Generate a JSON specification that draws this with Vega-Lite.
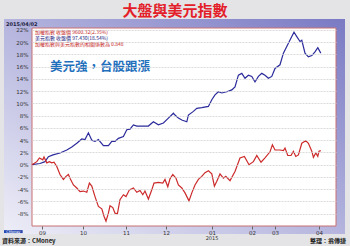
{
"$schema": "https://vega.github.io/schema/vega-lite/v6.json",
"width": 304, "height": 198,
"autosize": {"type": "none"},
"padding": {"left": 32, "top": 28, "right": 14, "bottom": 20},
"background": "#e4e4e6",
"config": {"view": {"stroke": null}, "font": "Noto Sans CJK TC"},
"encoding": {
  "x": {"field": "t", "type": "quantitative",
        "scale": {"domain": [0, 152], "nice": false, "zero": false},
        "axis": {"title": null, "values": [5, 25.5, 47, 67, 90, 110, 121.5, 143.5],
                 "labelExpr": "datum.value==5?'09':datum.value==25.5?'10':datum.value==47?'11':datum.value==67?'12':datum.value==90?'01':datum.value==110?'02':datum.value==121.5?'03':'04'",
                 "grid": false, "domain": false, "ticks": true, "tickSize": 3, "tickColor": "#666666",
                 "labelFontSize": 5.5, "labelColor": "#333333", "labelPadding": 1, "labelFont": "DejaVu Sans", "zindex": 1}},
  "y": {"field": "v", "type": "quantitative",
        "scale": {"domain": [-10, 22.3], "nice": false, "zero": false},
        "axis": {"title": null, "values": [-8, -6, -4, -2, 0, 2, 4, 6, 8, 10, 12, 14, 16, 18, 20, 22],
                 "labelExpr": "datum.value + '%'", "grid": true, "gridColor": "#d2d2d2", "gridDash": [2, 1], "gridWidth": 0.8,
                 "ticks": false, "domain": false, "labelFontSize": 5.5, "labelColor": "#333333", "labelPadding": 4,
                 "labelFont": "DejaVu Sans", "zindex": 1}}
},
"layer": [
  {"data": {"values": [{"t": -14, "t2": 156.5, "v": -11.3, "v2": 23.76}]},
   "mark": {"type": "rect", "clip": false,
            "fill": {"gradient": "linear", "x1": 0, "y1": 1, "x2": 1, "y2": 0,
                     "stops": [{"offset": 0, "color": "#eeeef8"}, {"offset": 1, "color": "#7a7ac4"}]}},
   "encoding": {"x2": {"field": "t2"}, "y2": {"field": "v2"}}},
  {"data": {"values": [{"t": 0, "t2": 152, "v": -10, "v2": 22.3}]},
   "mark": {"type": "rect", "fill": "#ffffff", "stroke": "#c87070", "strokeWidth": 1},
   "encoding": {"x2": {"field": "t2"}, "y2": {"field": "v2"}}},
  {"data": {"values": [{"t": -14, "t2": -4.65, "v": -10.67, "v2": -11.16}]},
   "mark": {"type": "rect", "clip": false, "fill": "#2848b0"},
   "encoding": {"x2": {"field": "t2"}, "y2": {"field": "v2"}}},
  {"data": {"values": [
    {"s": "美元指數", "t": 0, "v": 0}, {"s": "美元指數", "t": 4, "v": 0.2}, {"s": "美元指數", "t": 6.5, "v": 0.5},
    {"s": "美元指數", "t": 8.2, "v": 1.3}, {"s": "美元指數", "t": 10.5, "v": 1.6}, {"s": "美元指數", "t": 14, "v": 1.9},
    {"s": "美元指數", "t": 17.4, "v": 2.4}, {"s": "美元指數", "t": 19.9, "v": 2.9}, {"s": "美元指數", "t": 22.4, "v": 3.5},
    {"s": "美元指數", "t": 24.9, "v": 4.2}, {"s": "美元指數", "t": 26.5, "v": 4.1}, {"s": "美元指數", "t": 28.2, "v": 5.2},
    {"s": "美元指數", "t": 29.9, "v": 4.0}, {"s": "美元指數", "t": 31.5, "v": 3.8}, {"s": "美元指數", "t": 33.2, "v": 4.1},
    {"s": "美元指數", "t": 35.7, "v": 3.1}, {"s": "美元指數", "t": 38.2, "v": 3.1}, {"s": "美元指數", "t": 39.9, "v": 3.8},
    {"s": "美元指數", "t": 41.5, "v": 3.8}, {"s": "美元指數", "t": 43.2, "v": 4.3}, {"s": "美元指數", "t": 45.7, "v": 4.6},
    {"s": "美元指數", "t": 47.4, "v": 5.7}, {"s": "美元指數", "t": 49, "v": 5.8}, {"s": "美元指數", "t": 50.7, "v": 6.5},
    {"s": "美元指數", "t": 52.4, "v": 6.3}, {"s": "美元指數", "t": 55.7, "v": 6.3}, {"s": "美元指數", "t": 58.2, "v": 6.3},
    {"s": "美元指數", "t": 60.7, "v": 7.0}, {"s": "美元指數", "t": 63.2, "v": 6.5}, {"s": "美元指數", "t": 65.7, "v": 6.8},
    {"s": "美元指數", "t": 68.2, "v": 7.6}, {"s": "美元指數", "t": 70.7, "v": 8.4}, {"s": "美元指數", "t": 71.5, "v": 8.1},
    {"s": "美元指數", "t": 73.2, "v": 7.6}, {"s": "美元指數", "t": 74.9, "v": 7.3}, {"s": "美元指數", "t": 77.4, "v": 7.0},
    {"s": "美元指數", "t": 78.2, "v": 8.1}, {"s": "美元指數", "t": 80.7, "v": 8.7}, {"s": "美元指數", "t": 82.4, "v": 9.2},
    {"s": "美元指數", "t": 84.9, "v": 9.3}, {"s": "美元指數", "t": 88.2, "v": 9.5}, {"s": "美元指數", "t": 89.9, "v": 10.6},
    {"s": "美元指數", "t": 91.5, "v": 11.4}, {"s": "美元指數", "t": 93.2, "v": 11.9}, {"s": "美元指數", "t": 94.9, "v": 11.7},
    {"s": "美元指數", "t": 97.4, "v": 11.9}, {"s": "美元指數", "t": 99.9, "v": 12.2}, {"s": "美元指數", "t": 101.5, "v": 12.7},
    {"s": "美元指數", "t": 103.2, "v": 14.6}, {"s": "美元指數", "t": 104.9, "v": 14.9}, {"s": "美元指數", "t": 106.5, "v": 14.1},
    {"s": "美元指數", "t": 108.2, "v": 14.6}, {"s": "美元指數", "t": 109.9, "v": 14.4}, {"s": "美元指數", "t": 111.5, "v": 13.5},
    {"s": "美元指數", "t": 113.2, "v": 14.4}, {"s": "美元指數", "t": 114.9, "v": 14.9}, {"s": "美元指數", "t": 116.5, "v": 14.6},
    {"s": "美元指數", "t": 118.2, "v": 14.1}, {"s": "美元指數", "t": 119.9, "v": 14.4}, {"s": "美元指數", "t": 121.5, "v": 15.7},
    {"s": "美元指數", "t": 124, "v": 16.3}, {"s": "美元指數", "t": 125.7, "v": 18.2}, {"s": "美元指數", "t": 128.2, "v": 19.8},
    {"s": "美元指數", "t": 129.9, "v": 20.9}, {"s": "美元指數", "t": 131, "v": 21.6}, {"s": "美元指數", "t": 132.4, "v": 20.9},
    {"s": "美元指數", "t": 134, "v": 20.1}, {"s": "美元指數", "t": 134.9, "v": 20.3}, {"s": "美元指數", "t": 136.5, "v": 18.2},
    {"s": "美元指數", "t": 138.2, "v": 17.6}, {"s": "美元指數", "t": 139.9, "v": 17.8}, {"s": "美元指數", "t": 141.5, "v": 18.4},
    {"s": "美元指數", "t": 142.9, "v": 19.1}, {"s": "美元指數", "t": 144.4, "v": 18.2},
    {"s": "加權指數", "t": 0, "v": 0}, {"s": "加權指數", "t": 2.4, "v": 0.5}, {"s": "加權指數", "t": 3.7, "v": 1.1},
    {"s": "加權指數", "t": 5.4, "v": 0.8}, {"s": "加權指數", "t": 6, "v": 1.25}, {"s": "加權指數", "t": 7.4, "v": 0.3},
    {"s": "加權指數", "t": 8.7, "v": 0.5}, {"s": "加權指數", "t": 9.9, "v": 0.3}, {"s": "加權指數", "t": 11, "v": 0.4},
    {"s": "加權指數", "t": 12.4, "v": -0.3}, {"s": "加權指數", "t": 14, "v": -1.6}, {"s": "加權指數", "t": 15.7, "v": -2.4},
    {"s": "加權指數", "t": 17, "v": -1.9}, {"s": "加權指數", "t": 18.2, "v": -1.6}, {"s": "加權指數", "t": 19, "v": -2.2},
    {"s": "加權指數", "t": 20.7, "v": -3.3}, {"s": "加權指數", "t": 22.4, "v": -3.8}, {"s": "加權指數", "t": 24, "v": -4.4},
    {"s": "加權指數", "t": 25.7, "v": -4.3}, {"s": "加權指數", "t": 27.4, "v": -4.5}, {"s": "加權指數", "t": 28.7, "v": -3.0},
    {"s": "加權指數", "t": 29.9, "v": -3.5}, {"s": "加權指數", "t": 31.5, "v": -5.2}, {"s": "加權指數", "t": 33.2, "v": -6.8},
    {"s": "加權指數", "t": 34.9, "v": -7.2}, {"s": "加權指數", "t": 36, "v": -8.4}, {"s": "加權指數", "t": 37, "v": -9.2},
    {"s": "加權指數", "t": 38.2, "v": -7.9}, {"s": "加權指數", "t": 39, "v": -6.7}, {"s": "加權指數", "t": 40.4, "v": -7.0},
    {"s": "加權指數", "t": 41.5, "v": -7.9}, {"s": "加權指數", "t": 42.7, "v": -8.0}, {"s": "加權指數", "t": 44, "v": -5.7},
    {"s": "加權指數", "t": 45.7, "v": -4.9}, {"s": "加權指數", "t": 47, "v": -5.2}, {"s": "加權指數", "t": 48.7, "v": -4.1},
    {"s": "加權指數", "t": 50.7, "v": -3.8}, {"s": "加權指數", "t": 52.4, "v": -4.5}, {"s": "加權指數", "t": 54, "v": -4.2},
    {"s": "加權指數", "t": 55.4, "v": -4.9}, {"s": "加權指數", "t": 56.5, "v": -4.3}, {"s": "加權指數", "t": 58.2, "v": -5.6},
    {"s": "加權指數", "t": 59.9, "v": -4.1}, {"s": "加權指數", "t": 61, "v": -3.0}, {"s": "加權指數", "t": 63.2, "v": -2.9},
    {"s": "加權指數", "t": 65.4, "v": -3.0}, {"s": "加權指數", "t": 66.5, "v": -2.4}, {"s": "加權指數", "t": 67.9, "v": -3.6},
    {"s": "加權指數", "t": 69, "v": -2.3}, {"s": "加權指數", "t": 70.4, "v": -1.6}, {"s": "加權指數", "t": 72, "v": -2.2},
    {"s": "加權指數", "t": 73.2, "v": -3.3}, {"s": "加權指數", "t": 74.9, "v": -3.8}, {"s": "加權指數", "t": 76.5, "v": -4.6},
    {"s": "加權指數", "t": 78.5, "v": -5.9}, {"s": "加權指數", "t": 79.9, "v": -4.6}, {"s": "加權指數", "t": 81.5, "v": -3.3},
    {"s": "加權指數", "t": 83.2, "v": -2.4}, {"s": "加權指數", "t": 84.9, "v": -1.9}, {"s": "加權指數", "t": 86.5, "v": -1.3},
    {"s": "加權指數", "t": 88.2, "v": -1.0}, {"s": "加權指數", "t": 89.9, "v": -1.5}, {"s": "加權指數", "t": 91.2, "v": -3.5},
    {"s": "加權指數", "t": 92.4, "v": -2.7}, {"s": "加權指數", "t": 94, "v": -1.5}, {"s": "加權指數", "t": 95.7, "v": -2.2},
    {"s": "加權指數", "t": 96.9, "v": -1.9}, {"s": "加權指數", "t": 99, "v": -2.6}, {"s": "加權指數", "t": 101.5, "v": -1.1},
    {"s": "加權指數", "t": 104, "v": 1.1}, {"s": "加權指數", "t": 106.2, "v": 1.35}, {"s": "加權指數", "t": 108.5, "v": 0},
    {"s": "加權指數", "t": 110.7, "v": 0.5}, {"s": "加權指數", "t": 112.4, "v": 1.5}, {"s": "加權指數", "t": 114.5, "v": 0.4},
    {"s": "加權指數", "t": 116.5, "v": 1.1}, {"s": "加權指數", "t": 119, "v": 2.1}, {"s": "加權指數", "t": 120.2, "v": 3.25},
    {"s": "加權指數", "t": 121.5, "v": 2.4}, {"s": "加權指數", "t": 124, "v": 2.4}, {"s": "加權指數", "t": 125.7, "v": 2.3},
    {"s": "加權指數", "t": 126.5, "v": 2.7}, {"s": "加權指數", "t": 127.9, "v": 1.5}, {"s": "加權指數", "t": 129.5, "v": 1.5},
    {"s": "加權指數", "t": 130.7, "v": 2.2}, {"s": "加權指數", "t": 131.9, "v": 1.35}, {"s": "加權指數", "t": 133.2, "v": 1.6},
    {"s": "加權指數", "t": 134.9, "v": 3.5}, {"s": "加權指數", "t": 136.9, "v": 3.9}, {"s": "加權指數", "t": 138.2, "v": 3.5},
    {"s": "加權指數", "t": 139.9, "v": 2.2}, {"s": "加權指數", "t": 140.7, "v": 1.2}, {"s": "加權指數", "t": 141.9, "v": 1.9},
    {"s": "加權指數", "t": 142.9, "v": 1.35}, {"s": "加權指數", "t": 143.5, "v": 2.2}, {"s": "加權指數", "t": 144.4, "v": 2.3}
   ]},
   "mark": {"type": "line", "strokeWidth": 1.2},
   "encoding": {"color": {"field": "s", "type": "nominal",
                          "scale": {"domain": ["加權指數", "美元指數"], "range": ["#cc2a2a", "#2b2b9c"]}, "legend": null}}},
  {"data": {"values": [{"t": 71.5, "v": 25.06, "label": "大盤與美元指數"}]},
   "mark": {"type": "text", "fontSize": 15, "fontWeight": "bold", "color": "#e3202a", "align": "center", "baseline": "middle"},
   "encoding": {"text": {"field": "label"}}},
  {"data": {"values": [{"t": 9, "v": 15.96, "label": "美元強，台股跟漲"}]},
   "mark": {"type": "text", "fontSize": 12.5, "fontWeight": "bold", "color": "#1e6fbc", "align": "left", "baseline": "middle"},
   "encoding": {"text": {"field": "label"}}},
  {"data": {"values": [{"t": 1.5, "v": 21.62, "label": "加權指數 收盤價 9600.32(2.35%)"}, {"t": 1.5, "v": 19.62, "label": "加權指數與美元指數的相關係數為 0.848"}]},
   "mark": {"type": "text", "fontSize": 5, "color": "#c42020", "align": "left", "baseline": "middle"},
   "encoding": {"text": {"field": "label"}}},
  {"data": {"values": [{"t": 1.5, "v": 20.62, "label": "美元指數 收盤價 97.430(18.54%)"}]},
   "mark": {"type": "text", "fontSize": 5, "color": "#202080", "align": "left", "baseline": "middle"},
   "encoding": {"text": {"field": "label"}}},
  {"data": {"values": [{"t": -13, "v": 22.95, "label": "2015/04/02"}]},
   "mark": {"type": "text", "fontSize": 5, "fontWeight": "bold", "color": "#202040", "align": "left", "baseline": "middle", "font": "DejaVu Sans"},
   "encoding": {"text": {"field": "label"}}},
  {"data": {"values": [{"t": 90, "v": -11.95, "label": "2015"}]},
   "mark": {"type": "text", "fontSize": 5, "color": "#333333", "align": "center", "baseline": "middle", "font": "DejaVu Sans"},
   "encoding": {"text": {"field": "label"}}},
  {"data": {"values": [{"t": -9.3, "v": -10.92, "label": "CMoney"}]},
   "mark": {"type": "text", "fontSize": 3.5, "color": "#ffffff", "align": "center", "baseline": "middle", "font": "DejaVu Sans"},
   "encoding": {"text": {"field": "label"}}},
  {"data": {"values": [{"t": -15, "v": -12.4, "label": "資料來源：CMoney"}]},
   "mark": {"type": "text", "fontSize": 6, "fontWeight": "bold", "color": "#222222", "align": "left", "baseline": "middle"},
   "encoding": {"text": {"field": "label"}}},
  {"data": {"values": [{"t": 157, "v": -12.4, "label": "整理：翁傳捷"}]},
   "mark": {"type": "text", "fontSize": 6, "fontWeight": "bold", "color": "#222222", "align": "right", "baseline": "middle"},
   "encoding": {"text": {"field": "label"}}}
]
}
